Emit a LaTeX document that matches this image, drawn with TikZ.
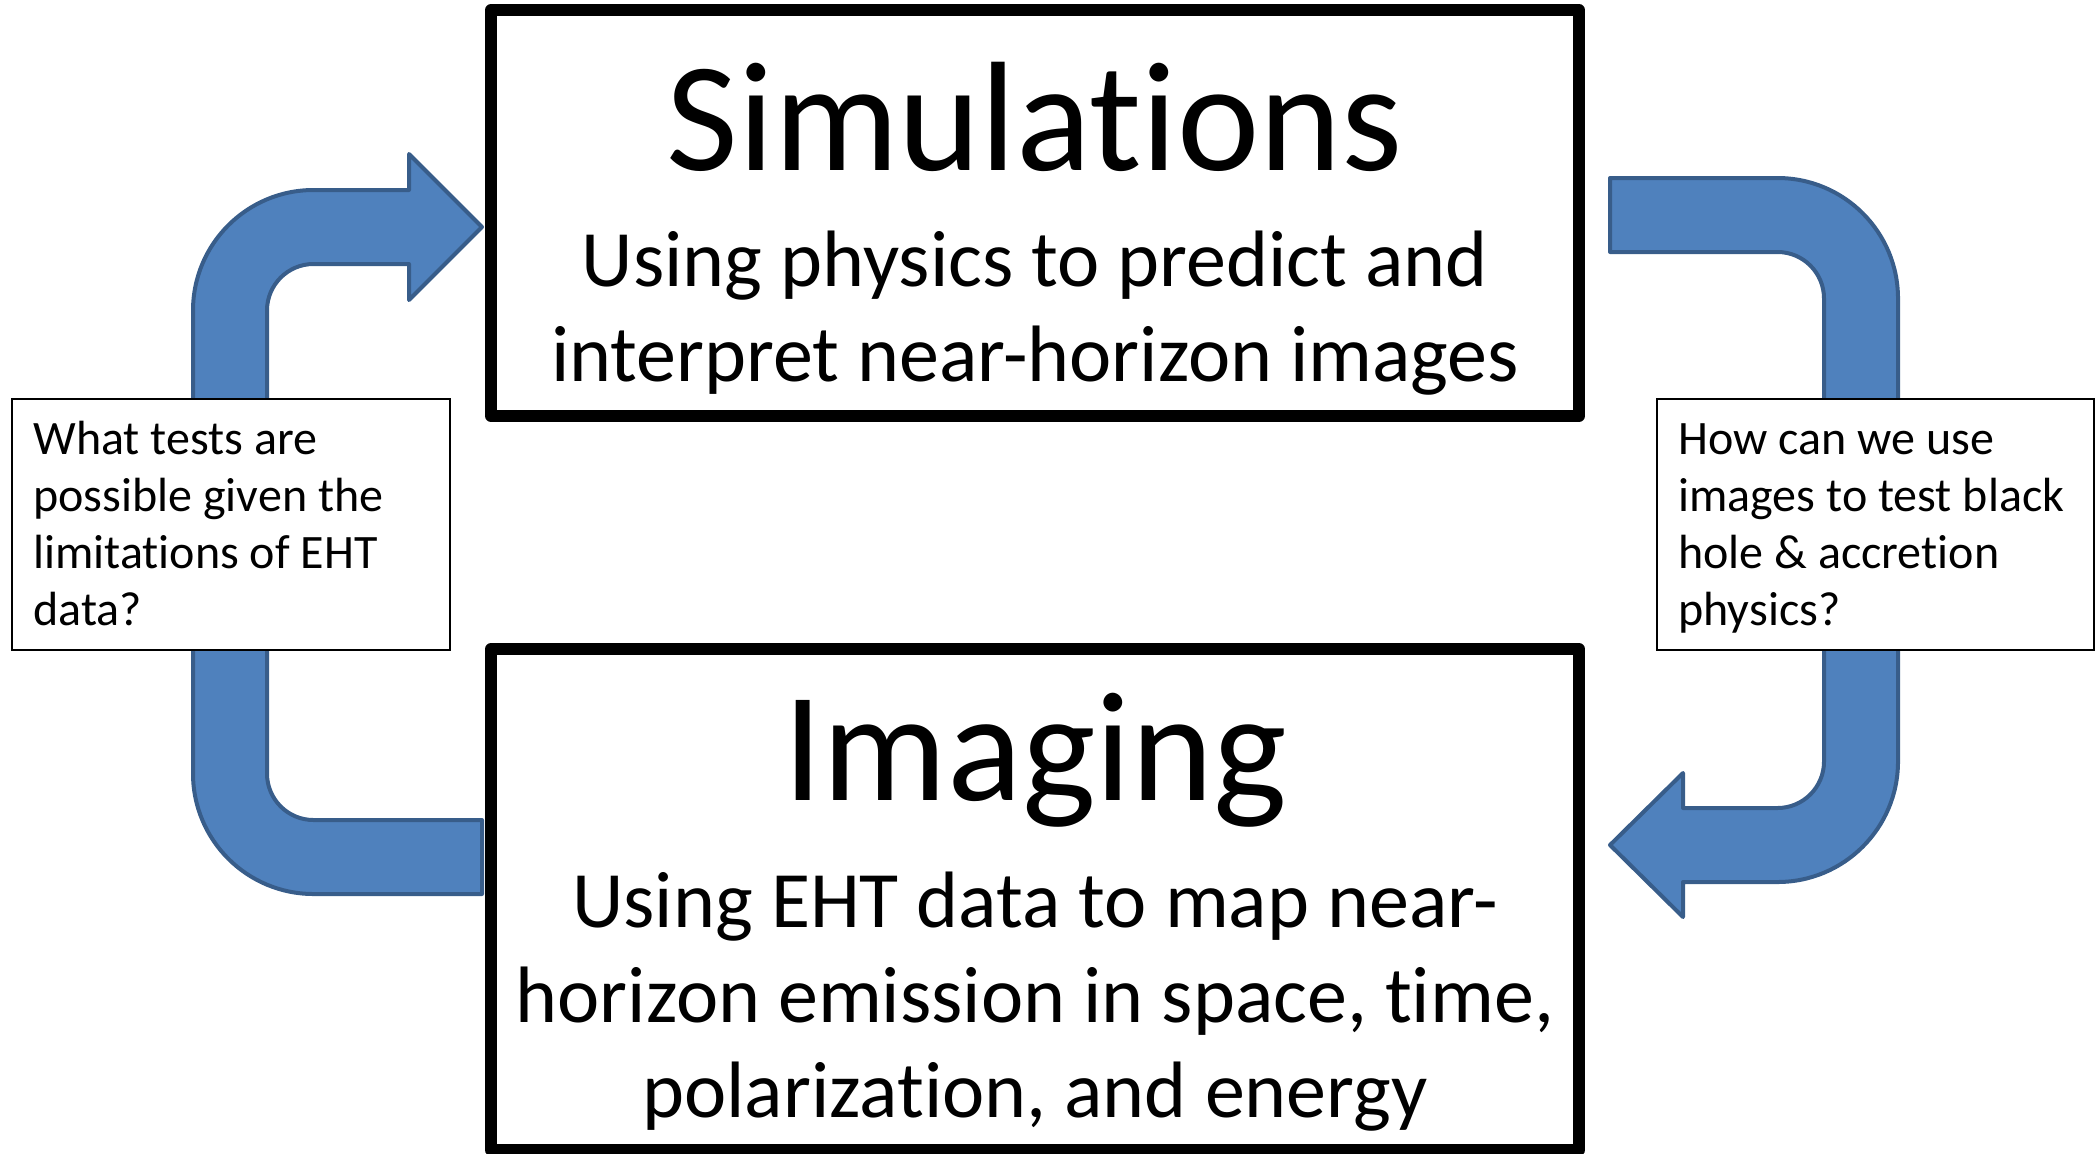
\documentclass[tikz,border=0pt]{standalone}
\usepackage{fontspec}
\setmainfont{Carlito}[Ligatures=NoCommon]
\usepackage{xcolor}

\definecolor{arrowfill}{HTML}{4F81BD}
\definecolor{arrowline}{HTML}{385D8A}

\begin{document}
\begin{tikzpicture}[x=0.5pt,y=-0.5pt,
    bigbox/.style={draw,line width=6pt,line join=round,fill=white,inner sep=0pt,minimum width=544pt},
    qbox/.style={draw,line width=1pt,fill=white,inner sep=0pt,minimum height=125.5pt},
    qtext/.style={anchor=base west,align=left,inner sep=0pt,font=\fontsize{24}{28.5}\selectfont},
    title/.style={anchor=base,inner sep=0pt,font=\fontsize{78}{94}\selectfont},
    subtitle/.style={anchor=base,align=center,inner sep=0pt,font=\fontsize{40}{47.5}\selectfont},
    bent/.style={fill=arrowfill,draw=arrowline,line width=2pt,line join=round}]
  \useasboundingbox (0,0) rectangle (2097,1153);

  % left arrow: up from imaging, over to simulations
  \draw[bent] (482,820) -- (313.5,820) arc[start angle=270,end angle=180,radius=23.25pt]
    -- (267,310.5) arc[start angle=180,end angle=90,radius=23.25pt]
    -- (409,264) -- (409,300) -- (482,227) -- (409,154) -- (409,190) -- (313.5,190)
    arc[start angle=90,end angle=180,radius=60.25pt]
    -- (193,773.5) arc[start angle=180,end angle=270,radius=60.25pt]
    -- (482,894) -- cycle;
  % right arrow: down from simulations, back to imaging
  \draw[bent] (1610,178) -- (1777.5,178) arc[start angle=90,end angle=0,radius=60.25pt]
    -- (1898,761.5) arc[start angle=0,end angle=-90,radius=60.25pt]
    -- (1683,882) -- (1683,917) -- (1610,845) -- (1683,773) -- (1683,808) -- (1777.5,808)
    arc[start angle=-90,end angle=0,radius=23.25pt]
    -- (1824,298.5) arc[start angle=0,end angle=90,radius=23.25pt]
    -- (1610,252) -- cycle;

  \node[bigbox,minimum height=203pt] (sim) at (1035,213) {};
  \node[bigbox,minimum height=250.5pt] (img) at (1035,899.5) {};
  % multi-line texts sit on the baseline of their last line
  \node[title] (simtitle) at (1035,170) {Simulations};
  \node[subtitle] (simtext) at (1035,381) {Using physics to predict and\\interpret near-horizon images};
  \node[title] (imgtitle) at (1035,800) {Imaging};
  \node[subtitle] (imgtext) at (1035,1117) {Using EHT data to map near-\\horizon emission in space, time,\\polarization, and energy};

  \node[qbox,minimum width=219pt] (qleft) at (231,524.5) {};
  \node[qtext] (qlefttext) at (33,625) {What tests are\\possible given the\\limitations of EHT\\data?};
  \node[qbox,minimum width=218.5pt] (qright) at (1875.5,524.5) {};
  \node[qtext] (qrighttext) at (1678,625) {How can we use\\images to test black\\hole \& accretion\\physics?};
\end{tikzpicture}
\end{document}
